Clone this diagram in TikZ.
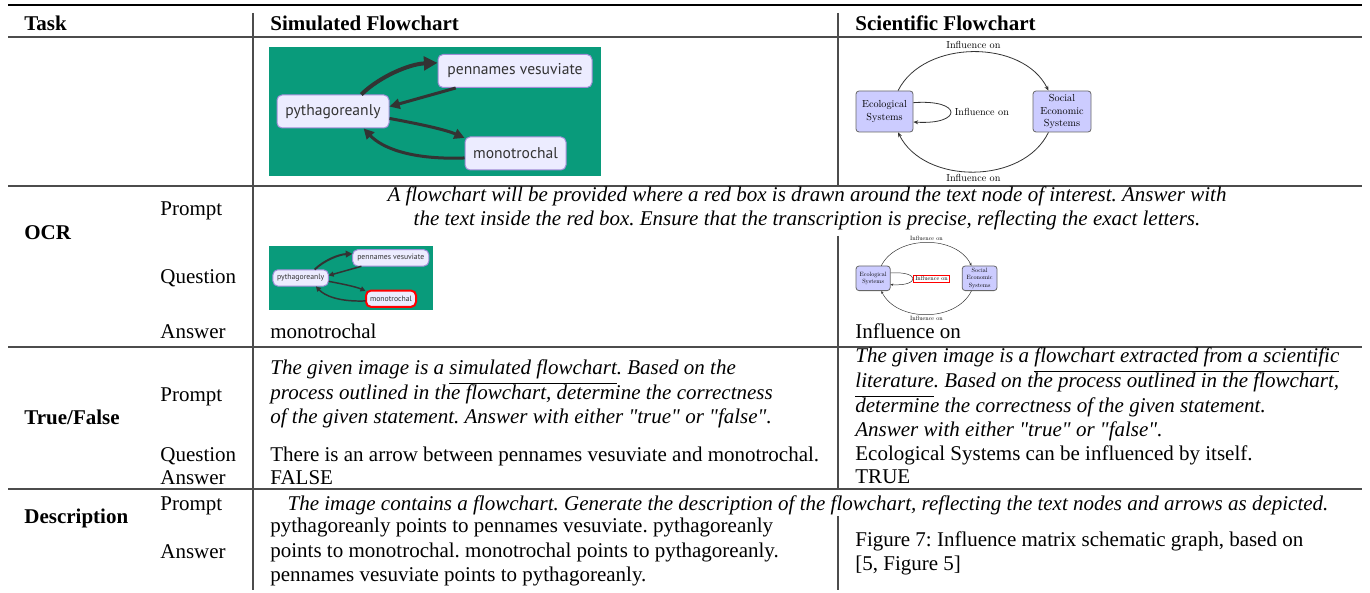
\documentclass[tikz,border=0pt]{standalone}
\usepackage{fontspec}
\setmainfont{Liberation Serif}[Ligatures=TeXOff]
\newfontfamily\chartfont{PT Sans}
\newfontfamily\lmfont{lmroman10-regular.otf}
\usetikzlibrary{arrows.meta}

\definecolor{rulegray}{gray}{0.3}
\definecolor{simgreen}{RGB}{9,155,123}
\definecolor{simbox}{RGB}{236,236,255}
\definecolor{simborder}{RGB}{160,140,215}
\definecolor{simtext}{RGB}{51,51,51}
\definecolor{scibox}{RGB}{204,204,255}

% underline set well below the baseline
\newcommand\lowline[1]{\setbox0\hbox{#1}\rlap{\vrule height -4.3pt depth 4.9pt width \wd0}\box0}

\tikzset{
  cell/.style={anchor=base west, inner sep=0pt, font=\fontsize{10.5}{12}\selectfont},
  headcell/.style={cell, font=\bfseries\fontsize{10.5}{12}\selectfont},
  promptcell/.style={cell, font=\itshape\fontsize{10.5}{12}\selectfont},
  centreprompt/.style={promptcell, anchor=base},
  tablerule/.style={draw=rulegray, line width=0.65pt},
  heavyrule/.style={draw=black, line width=1pt},
  simnode/.style={draw=simborder, fill=simbox, rounded corners=2.5pt, line width=0.5pt,
    minimum height=16.5pt, inner sep=0pt, text=simtext,
    font=\chartfont\fontsize{7.8}{9}\selectfont},
  simarrow/.style={draw=simtext, -{Triangle[length=0pt 3.4, width=0pt 3.4]}},
  scinode/.style={draw=black!60, fill=scibox, rounded corners=1.5pt, line width=0.4pt,
    minimum height=20.5pt, inner sep=0.5pt, align=center,
    font=\lmfont\fontsize{5.1}{6.3}\selectfont},
  sciarrow/.style={draw=black!80, -{Stealth[length=0pt 6, width=0pt 5]}},
  scilabel/.style={inner sep=1.2pt, font=\lmfont\fontsize{5.1}{6.3}\selectfont},
}

% generated flowchart: #1 name prefix, #2 top-left corner, #3 scale, #4 extra style of the monotrochal box
\newcommand\simchart[4]{%
  \begin{scope}[shift={#2}, scale=#3, transform shape]
    \fill[simgreen] (0,0) rectangle (332,129);
    \node[simnode, minimum width=77pt] (#1pen) at (246,24) {pennames vesuviate};
    \node[simnode, minimum width=56pt] (#1pyt) at (64,64.5) {pythagoreanly};
    \node[simnode, minimum width=50.5pt, #4] (#1mon) at (246.5,106.5) {monotrochal};
    \draw[simarrow, line width=#3*2pt] (#1pyt.31) .. controls (110,30) and (140,17) .. (#1pen.174);
    \draw[simarrow, line width=#3*1.5pt] (#1pen.196) -- (#1pyt.5);
    \draw[simarrow, line width=#3*1.5pt] (#1pyt.-7) .. controls (145,76) and (175,82) .. (#1mon.163);
    \draw[simarrow, line width=#3*1.5pt] (#1mon.185) .. controls (140,113) and (112,100) .. (#1pyt.-29);
  \end{scope}}

% influence graph: #1 name prefix, #2 top-left of the left box, #3 scale, #4 extra style of the loop label
\newcommand\scichart[4]{%
  \begin{scope}[shift={#2}, scale=#3, transform shape]
    \node[scinode, minimum width=28.5pt] (#1eco) at (28.5,20.5) {Ecological\\Systems};
    \node[scinode, minimum width=29pt] (#1soc) at (206,20.5) {Social\\Economic\\Systems};
    \draw[sciarrow, line width=#3*0.4pt] (#1eco.57) .. controls (68,-52) and (167,-52) .. (#1soc.123)
      node[scilabel, pos=0.5, above] (#1top) {Influence on};
    \draw[sciarrow, line width=#3*0.4pt] (#1soc.-123) .. controls (167,94) and (68,94) .. (#1eco.-57)
      node[scilabel, pos=0.5, below] (#1bot) {Influence on};
    \draw[sciarrow, line width=#3*0.4pt] (#1eco.17) .. controls (107,8) and (107,34) .. (#1eco.-20);
    \node[scilabel, anchor=west, #4] (#1loop) at (96,21) {Influence on};
  \end{scope}}

\begin{document}
\frenchspacing
\begin{tikzpicture}[x=0.5pt, y=-0.5pt]
  \useasboundingbox (0,0) rectangle (1370,593);

  % horizontal rules
  \draw[heavyrule] (8,5) -- (1362,5);
  \draw[tablerule] (8,37) -- (1362,37);
  \draw[tablerule] (8,186) -- (1362,186);
  \draw[tablerule] (8,347) -- (1362,347);
  \draw[tablerule] (8,489) -- (1362,489);

  % column separators
  \draw[tablerule] (253,13) -- (253,590);
  \draw[tablerule] (838,13) -- (838,186);
  \draw[tablerule] (838,236) -- (838,489);
  \draw[tablerule] (838,516) -- (838,590);

  % header
  \node[headcell] (hTask) at (24,31) {Task};
  \node[headcell] (hSim) at (270,31) {Simulated Flowchart};
  \node[headcell] (hSci) at (855,31) {Scientific Flowchart};

  % example pictures
  \simchart{big}{(269,47)}{1}{}
  \scichart{bigs}{(856,91)}{1}{}

  % OCR
  \node[headcell] (ocrTask) at (24,240) {OCR};
  \node[cell] (ocrPrompt) at (160,216) {Prompt};
  \node[cell] (ocrQuestion) at (160,284) {Question};
  \node[cell] (ocrAnswer) at (160,338) {Answer};
  \node[centreprompt] (ocrP1) at (807,202) {A flowchart will be provided where a red box is drawn around the text node of interest. Answer with};
  \node[centreprompt] (ocrP2) at (807,226) {the text inside the red box. Ensure that the transcription is precise, reflecting the exact letters.};
  \simchart{small}{(269,246)}{0.495}{draw=red, line width=1pt}
  \scichart{smalls}{(856,266)}{0.6}{draw=red, line width=0.35pt}
  \node[cell] (ocrA1) at (270,338) {monotrochal};
  \node[cell] (ocrA2) at (855,338) {Influence on};

  % True/False
  \node[headcell] (tfTask) at (24,424) {True/False};
  \node[cell] (tfPrompt) at (160,401) {Prompt};
  \node[cell] (tfQuestion) at (160,461) {Question};
  \node[cell] (tfAnswer) at (160,484) {Answer};
  \node[promptcell] (tfL1) at (270,374) {The given image is a \lowline{simulated flowchart}. Based on the};
  \node[promptcell] (tfL2) at (270,399) {process outlined in the flowchart, determine the correctness};
  \node[promptcell] (tfL3) at (270,423) {of the given statement. Answer with either "true" or "false".};
  \node[cell] (tfLQ) at (270,461) {There is an arrow between pennames vesuviate and monotrochal.};
  \node[cell] (tfLA) at (270,484) {FALSE};
  \node[promptcell] (tfR1) at (855,362) {The given image is a \lowline{flowchart extracted from a scientific}};
  \node[promptcell] (tfR2) at (855,387) {\lowline{literature}. Based on the process outlined in the flowchart,};
  \node[promptcell] (tfR3) at (855,412) {determine the correctness of the given statement.};
  \node[promptcell] (tfR4) at (855,436) {Answer with either "true" or "false".};
  \node[cell] (tfRQ) at (855,460) {Ecological Systems can be influenced by itself.};
  \node[cell] (tfRA) at (855,483) {TRUE};

  % Description
  \node[headcell] (dTask) at (24,523) {Description};
  \node[cell] (dPrompt) at (160,510) {Prompt};
  \node[cell] (dAnswer) at (160,558) {Answer};
  \node[centreprompt] (dP) at (808,510) {The image contains a flowchart. Generate the description of the flowchart, reflecting the text nodes and arrows as depicted.};
  \node[cell] (dL1) at (270,532) {pythagoreanly points to pennames vesuviate. pythagoreanly};
  \node[cell] (dL2) at (270,557) {points to monotrochal. monotrochal points to pythagoreanly.};
  \node[cell] (dL3) at (270,581) {pennames vesuviate points to pythagoreanly.};
  \node[cell] (dR1) at (855,546) {Figure 7: Influence matrix schematic graph, based on};
  \node[cell] (dR2) at (855,570) {[5, Figure 5]};
\end{tikzpicture}
\end{document}
